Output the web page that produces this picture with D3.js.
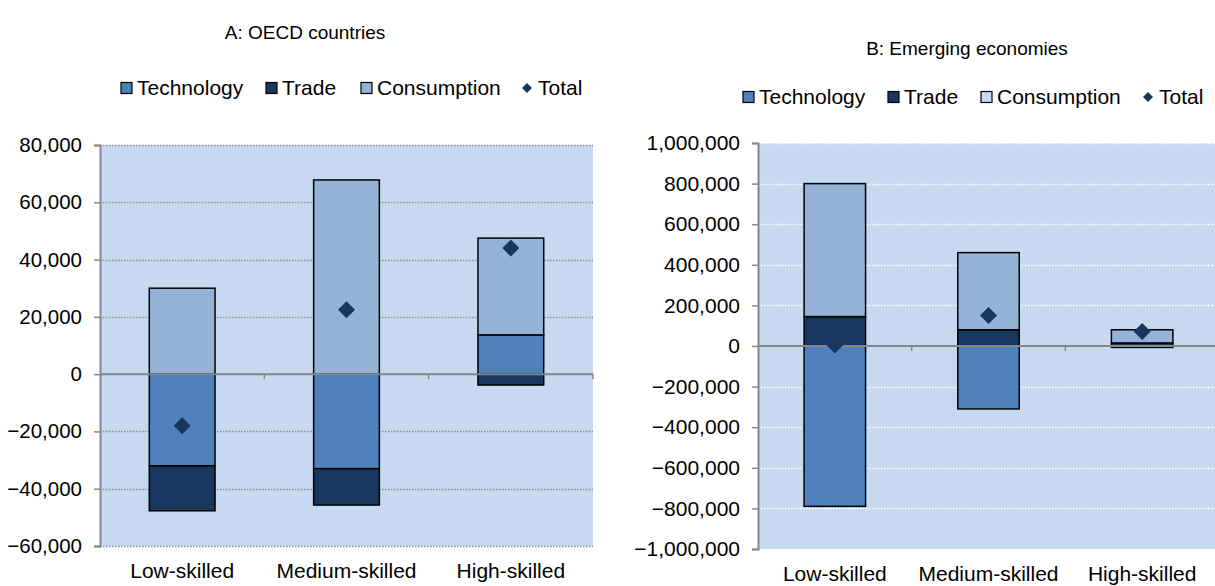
<!DOCTYPE html>
<html>
<head>
<meta charset="utf-8">
<script src="https://cdn.jsdelivr.net/npm/d3@7/dist/d3.min.js"></script>
<style>
  html, body { margin: 0; padding: 0; background: #fff; }
  svg { display: block; font-family: "Liberation Sans", Arial, sans-serif; }
</style>
</head>
<body>
<svg id="chart" width="1215" height="586"></svg>
<script>
// Skill categories shared by both panels
const categories = ["Low-skilled", "Medium-skilled", "High-skilled"];
const seriesKeys = ["Technology", "Trade", "Consumption"];

// Panel A: OECD countries (employment change)
const oecdTechnology = [-32000, -33000, 13700];
const oecdTrade = [-15700, -12700, -3800];
const oecdConsumption = [30000, 67800, 33800];
const oecdTotal = [-18000, 22500, 44000];
const oecdTicks = [-60000, -40000, -20000, 0, 20000, 40000, 60000, 80000];

// Panel B: Emerging economies (employment change)
const emergingTechnology = [-790000, -310000, -7000];
const emergingTrade = [145000, 80000, 15000];
const emergingConsumption = [655000, 380000, 65000];
const emergingTotal = [5000, 150000, 72000];
const emergingTicks = [-1000000, -800000, -600000, -400000, -200000, 0, 200000, 400000, 600000, 800000, 1000000];

const colors = {
  Technology: "#4F81BD",
  Trade: "#17375E",
  Consumption: "#95B3D7",
  Total: "#17375E"
};

const svg = d3.select("#chart");
const fmt = d3.format(",");
const axisColor = "#868686";

// diamond path: square rotated 45 degrees, half-diagonal r
function diamond(r) {
  return `M0,${-r}L${r},0L0,${r}L${-r},0Z`;
}

function drawPanel(cfg) {
  const rows = categories.map((c, i) => ({
    category: c,
    Technology: cfg.technology[i],
    Trade: cfg.trade[i],
    Consumption: cfg.consumption[i],
    Total: cfg.total[i]
  }));

  const x = d3.scaleBand()
    .domain(categories)
    .range([cfg.left, cfg.right])
    .paddingInner(0.6)
    .paddingOuter(0.3);

  const y = d3.scaleLinear()
    .domain(cfg.domain)
    .range([cfg.bottom, cfg.top]);

  const g = svg.append("g");

  // Title
  g.append("text")
    .attr("x", cfg.titleX)
    .attr("y", cfg.titleY)
    .attr("text-anchor", "middle")
    .attr("font-size", 19)
    .attr("fill", "#000")
    .text(cfg.title);

  // Plot area background
  g.append("rect")
    .attr("x", cfg.left)
    .attr("y", y(cfg.domain[1]))
    .attr("width", cfg.right - cfg.left)
    .attr("height", y(cfg.domain[0]) - y(cfg.domain[1]))
    .attr("fill", "#C6D9F0");

  // Dotted gridlines
  g.append("g")
    .selectAll("line")
    .data(cfg.ticks.filter(t => t !== 0))
    .join("line")
    .attr("x1", cfg.left)
    .attr("x2", cfg.right)
    .attr("y1", d => Math.round(y(d)) + 0.5)
    .attr("y2", d => Math.round(y(d)) + 0.5)
    .attr("stroke", cfg.gridColor)
    .attr("stroke-width", 1.3)
    .attr("stroke-dasharray", "1.5,1.5");

  // Stacked bars (positives up, negatives down)
  const stack = d3.stack()
    .keys(seriesKeys)
    .offset(d3.stackOffsetDiverging);
  const layers = stack(rows);

  g.append("g")
    .selectAll("g")
    .data(layers)
    .join("g")
    .attr("fill", d => colors[d.key])
    .selectAll("rect")
    .data(d => d)
    .join("rect")
    .attr("x", d => x(d.data.category))
    .attr("width", x.bandwidth())
    .attr("y", d => y(Math.max(d[0], d[1])))
    .attr("height", d => Math.abs(y(d[0]) - y(d[1])))
    .attr("stroke", "#000")
    .attr("stroke-width", 1.5);

  // Y axis
  const yAxis = d3.axisLeft(y)
    .tickValues(cfg.ticks)
    .tickFormat(fmt)
    .tickSize(6)
    .tickPadding(12);
  const ya = g.append("g")
    .attr("transform", `translate(${cfg.left},0)`)
    .call(yAxis);
  ya.select(".domain").attr("stroke", axisColor).attr("stroke-width", 2);
  ya.selectAll(".tick line").attr("stroke", axisColor).attr("stroke-width", 1.5);
  ya.selectAll(".tick text")
    .attr("font-size", cfg.tickFont)
    .attr("font-family", "Liberation Sans, Arial, sans-serif")
    .attr("fill", "#000");

  // Zero line with category boundary ticks
  g.append("line")
    .attr("x1", cfg.left)
    .attr("x2", cfg.right)
    .attr("y1", y(0))
    .attr("y2", y(0))
    .attr("stroke", axisColor)
    .attr("stroke-width", 2);
  const bounds = categories.map(c => x(c) - x.step() * x.paddingOuter() + x.step());
  g.append("g")
    .selectAll("line")
    .data(bounds)
    .join("line")
    .attr("x1", d => d)
    .attr("x2", d => d)
    .attr("y1", y(0))
    .attr("y2", y(0) + 5)
    .attr("stroke", axisColor)
    .attr("stroke-width", 1.5);

  // Total markers
  g.append("g")
    .selectAll("path")
    .data(rows)
    .join("path")
    .attr("transform", d => `translate(${x(d.category) + x.bandwidth() / 2},${y(d.Total)})`)
    .attr("d", diamond(8.5))
    .attr("fill", colors.Total);

  // Category labels
  g.append("g")
    .selectAll("text")
    .data(categories)
    .join("text")
    .attr("x", d => x(d) + x.bandwidth() / 2)
    .attr("y", cfg.labelY)
    .attr("text-anchor", "middle")
    .attr("font-size", 21)
    .attr("fill", "#000")
    .text(d => d);

  // Legend
  const legend = g.append("g").attr("transform", `translate(0,${cfg.legendY})`);
  cfg.legendItems.forEach(it => {
    const li = legend.append("g").attr("transform", `translate(${it.x},0)`);
    if (it.key === "Total") {
      li.append("path")
        .attr("transform", "translate(5,0)")
        .attr("d", diamond(5))
        .attr("fill", colors.Total);
    } else {
      li.append("rect")
        .attr("x", 0)
        .attr("y", -5.5)
        .attr("width", 11)
        .attr("height", 11)
        .attr("fill", it.swatch || colors[it.key])
        .attr("stroke", "#000")
        .attr("stroke-width", 1.2);
    }
    li.append("text")
      .attr("x", it.textDx)
      .attr("y", 0)
      .attr("dy", "0.35em")
      .attr("font-size", 21)
      .attr("fill", "#000")
      .text(it.key);
  });
}

drawPanel({
  title: "A: OECD countries",
  titleX: 305, titleY: 39,
  left: 100, right: 593, top: 145, bottom: 546,
  domain: [-60000, 80000],
  ticks: oecdTicks,
  tickFont: 20.5,
  technology: oecdTechnology,
  trade: oecdTrade,
  consumption: oecdConsumption,
  total: oecdTotal,
  gridColor: "#8C8C8C",
  labelY: 578,
  legendY: 88,
  legendItems: [
    { key: "Technology", x: 121, textDx: 16 },
    { key: "Trade", x: 266, textDx: 16 },
    { key: "Consumption", x: 361, textDx: 16 },
    { key: "Total", x: 522, textDx: 16 }
  ]
});

drawPanel({
  title: "B: Emerging economies",
  titleX: 967, titleY: 55,
  left: 758, right: 1219, top: 143, bottom: 549,
  domain: [-1000000, 1000000],
  ticks: emergingTicks,
  tickFont: 21,
  technology: emergingTechnology,
  trade: emergingTrade,
  consumption: emergingConsumption,
  total: emergingTotal,
  gridColor: "#FFFFFF",
  labelY: 581,
  legendY: 97,
  legendItems: [
    { key: "Technology", x: 743, textDx: 16 },
    { key: "Trade", x: 888, textDx: 16 },
    { key: "Consumption", x: 981, textDx: 16, swatch: "#C6D9F0" },
    { key: "Total", x: 1143, textDx: 16 }
  ]
});
</script>
</body>
</html>
